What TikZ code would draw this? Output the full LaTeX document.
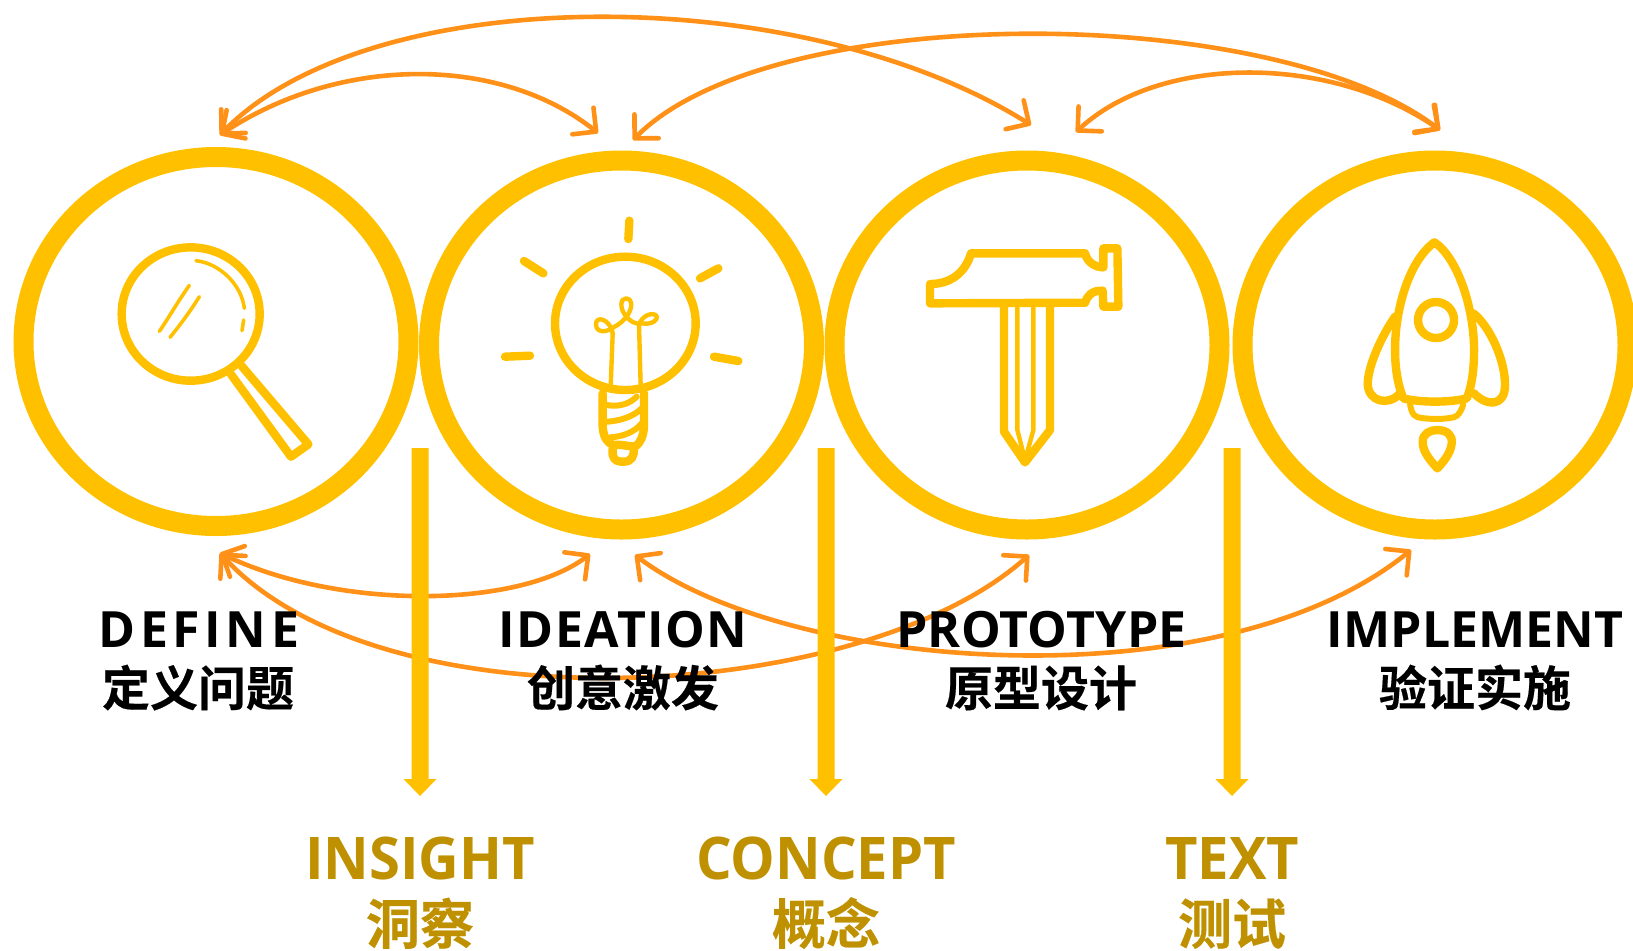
\documentclass[tikz,border=0pt]{standalone}
\usepackage{fontspec}
\setmainfont{Open Sans}
\newfontfamily\cjk{Noto Sans CJK SC}[BoldFont={Noto Sans CJK SC Bold},BoldFeatures={FakeBold=0.4}]
\usetikzlibrary{arrows.meta,shapes.geometric}
\definecolor{ringY}{HTML}{FFC000}
\definecolor{goldT}{HTML}{BF9000}
\definecolor{arcO}{HTML}{FF9018}
\tikzset{
  ring/.style={ellipse,draw=ringY,line width=10pt,minimum width=192.5pt,minimum height=184.5pt,inner sep=0pt,outer sep=0pt},
  arc2/.style={draw=arcO,line width=2.3pt,line cap=round,{Straight Barb[round,length=8.5pt,width=17pt,line width=2.3pt]}-{Straight Barb[round,length=8.5pt,width=17pt,line width=2.3pt]}},
  down/.style={draw=none,fill=ringY},
  ico/.style={draw=ringY,line width=4.2pt,line cap=round,line join=round},
  icot/.style={draw=ringY,line width=2.2pt,line cap=round,line join=round},
  ensT/.style={anchor=base,font=\bfseries\fontsize{25}{30}\selectfont,text=black,inner sep=0pt},
  cnT/.style={anchor=base,font=\cjk\bfseries\fontsize{24}{30}\selectfont,text=black,inner sep=0pt},
  ensG/.style={anchor=base,font=\bfseries\fontsize{29.4}{34}\selectfont\addfontfeature{FakeStretch=0.955},text=goldT,inner sep=0pt},
  cnG/.style={anchor=base,font=\cjk\bfseries\fontsize{27}{32}\selectfont,text=goldT,inner sep=0pt},
}
\begin{document}
\begin{tikzpicture}[x=0.5pt,y=-0.5pt]
\clip (0,0) rectangle (1633,950);
% rings
\node[ring] (c1) at (216,341.5) {};
\node[ring] (c2) at (621.5,345) {};
\node[ring] (c3) at (1027,345) {};
\node[ring] (c4) at (1435,345) {};
% arc end points
\coordinate (tl1) at (220,135);
\coordinate (tl2) at (598,133);
\coordinate (tl2b) at (633,140);
\coordinate (tl3) at (1031,125);
\coordinate (tl3b) at (1076,132);
\coordinate (tl4) at (1440,130);
\coordinate (bl1) at (220,553);
\coordinate (bl2) at (590,554);
\coordinate (bl2b) at (635,555);
\coordinate (bl3) at (1029,555);
\coordinate (bl4) at (1411,550);
% top arcs
\draw[arc2] (tl1) .. controls (370,-20) and (800,-20) .. (tl3);
\draw[arc2] (tl1) .. controls (340,55) and (500,55) .. (tl2);
\draw[arc2] (tl2b) .. controls (770,1) and (1270,1) .. (tl4);
\draw[arc2] (tl3b) .. controls (1160,54) and (1330,54) .. (tl4);
% bottom arcs
\draw[arc2] (bl1) .. controls (340,611) and (520,608) .. (bl2);
\draw[arc2] (bl1) .. controls (380,730) and (860,706) .. (bl3);
\draw[arc2] (bl2b) .. controls (790,672) and (1220,705) .. (bl4);
% labels
\node[ensT] (t1) at (199,647) {\addfontfeature{LetterSpace=9}DEFINE};
\node[cnT] (z1) at (198,706) {定义问题};
\node[ensT] (t2) at (623,647) {\addfontfeature{LetterSpace=2.9}IDEATION};
\node[cnT] (z2) at (623,706) {创意激发};
\node[ensT] (t3) at (1041.5,647) {\addfontfeature{LetterSpace=0.5}PROTOTYPE};
\node[cnT] (z3) at (1041,706) {原型设计};
\node[ensT] (t4) at (1475,647) {IMPLEMENT};
\node[cnT] (z4) at (1475,706) {验证实施};
\node[ensG] (g1) at (420,879) {INSIGHT};
\node[cnG] (h1) at (420,944) {洞察};
\node[ensG] (g2) at (826,879) {CONCEPT};
\node[cnG] (h2) at (826,944) {概念};
\node[ensG] (g3) at (1232,879) {TEXT};
\node[cnG] (h3) at (1232,944) {测试};
% vertical arrows
\foreach \xx in {420,826,1232}{
  \fill[down] (\xx-8.5,448) -- (\xx+8.5,448) -- (\xx+8.5,779) -- (\xx+16.5,779) -- (\xx,796) -- (\xx-16.5,779) -- (\xx-8.5,779) -- cycle;
}
% magnifier
\begin{scope}[x=0.166667pt,y=-0.166667pt,shift={(180,570)}]
\draw[ico] (392,372) ellipse [x radius=207,y radius=200];
\draw[ico] (513,553) -- (693,800) -- (745,763) -- (545,528);
\draw[icot,line width=1.8pt] (408,212) .. controls (480,220) and (545,285) .. (553,355);
\draw[icot,line width=1.8pt] (551,390) -- (546,422);
\draw[icot,line width=1.8pt] (388,286) .. controls (350,340) and (325,385) .. (298,424);
\draw[icot,line width=1.8pt] (418,320) .. controls (390,365) and (360,405) .. (330,442);
\end{scope}
% bulb
\begin{scope}[x=0.166667pt,y=-0.166667pt,shift={(1380,570)}]
\draw[ico] (508,92) -- (505,147);
\draw[ico] (192,213) -- (250,250);
\draw[ico] (720,265) -- (775,235);
\draw[ico] (135,500) -- (210,497);
\draw[ico] (762,500) -- (835,513);
\draw[ico] (496,400) ellipse [x radius=211,y radius=200];
\draw[icot] (452,590) -- (458,430) .. controls (450,385) and (405,375) .. (408,405)
  .. controls (410,432) and (445,425) .. (460,412) .. controls (475,405) and (495,390) .. (505,372)
  .. controls (520,345) and (515,325) .. (498,325) .. controls (480,325) and (480,355) .. (495,375)
  .. controls (510,395) and (530,405) .. (545,400) .. controls (575,405) and (595,390) .. (590,378)
  .. controls (580,365) and (545,375) .. (537,405) -- (542,590);
\draw[ico] (428,610) -- (428,710) .. controls (430,745) and (445,760) .. (460,765)
  .. controls (480,762) and (500,768) .. (525,770) .. controls (540,760) and (550,740) .. (552,710) -- (552,610);
\draw[ico] (458,775) -- (458,795) .. controls (462,815) and (480,815) .. (490,815) .. controls (515,815) and (522,800) .. (522,775);
\draw[icot,line width=3pt] (440,645) .. controls (480,652) and (510,640) .. (530,620);
\draw[icot,line width=3pt] (440,695) .. controls (490,692) and (525,675) .. (545,655);
\draw[icot,line width=3pt] (450,742) .. controls (490,740) and (525,725) .. (545,700);
\end{scope}
% hammer
\begin{scope}[x=0.166667pt,y=-0.166667pt,shift={(2640,630)}]
\draw[ico] (150,280) -- (150,222) .. controls (210,222) and (255,190) .. (273,130) -- (615,130)
  .. controls (622,160) and (650,172) .. (670,172) -- (670,115) -- (712,115) -- (715,290) -- (670,290) -- (668,242)
  .. controls (635,240) and (620,260) .. (615,278) -- cycle;
\draw[ico,line cap=butt] (372,280) -- (372,665) -- (435,757) -- (510,660) -- (510,280);
\draw[icot,line cap=butt] (412,285) -- (412,660) -- (435,750) -- (460,660) -- (460,285);
\end{scope}
% rocket
\begin{scope}[x=0.166667pt,y=-0.166667pt,shift={(3990,630)}]
\draw[ico] (220,565) .. controls (205,530) and (195,480) .. (195,420) .. controls (195,290) and (240,150) .. (313,97)
  .. controls (380,140) and (432,290) .. (432,420) .. controls (432,480) and (425,530) .. (410,565)
  .. controls (360,578) and (270,578) .. cycle;
\draw[ico] (318,330) circle [radius=54];
\draw[ico] (195,320) .. controls (160,370) and (115,460) .. (113,520) .. controls (113,575) and (175,590) .. (210,550);
\draw[ico] (430,310) .. controls (480,350) and (525,450) .. (525,525) .. controls (525,590) and (470,590) .. (432,550);
\draw[icot,line width=3pt] (240,582) .. controls (245,615) and (255,622) .. (275,624) .. controls (310,628) and (340,628) .. (370,622) .. controls (385,620) and (395,600) .. (400,582);
\draw[ico] (322,775) .. controls (290,740) and (278,720) .. (278,695) .. controls (278,670) and (300,660) .. (322,660) .. controls (350,660) and (368,675) .. (365,700) .. controls (362,730) and (340,755) .. cycle;
\end{scope}
\end{tikzpicture}
\end{document}
